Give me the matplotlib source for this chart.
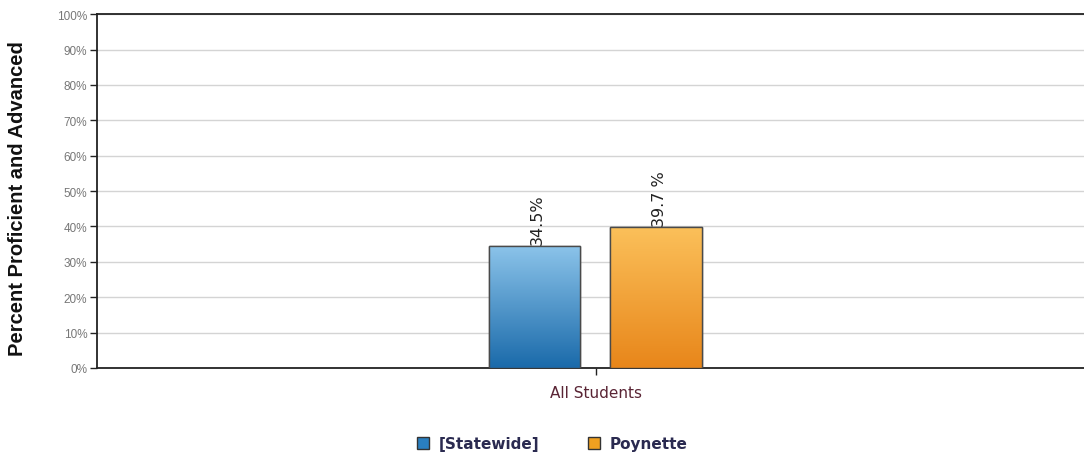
import numpy as np
import matplotlib
matplotlib.use("Agg")
import matplotlib.pyplot as plt
from matplotlib.colors import LinearSegmentedColormap
from matplotlib.lines import Line2D

# données
categories = ["All Students"]
series = ["[Statewide]", "Poynette"]
values = [34.5, 39.7]
labels = ["34.5%", "39.7 %"]
yticks = list(range(0, 101, 10))

colors_top = ["#8cc4ea", "#fbc05a"]
colors_bot = ["#1a6aaa", "#e8861a"]
colors_leg = ["#2a7fc0", "#f0a020"]

fig = plt.figure(figsize=(10.84, 4.60), dpi=100)
ax = fig.add_axes([0.0895, 0.198, 1.01 - 0.0895, 0.769])

x0 = 0
width = 0.092
offsets = [-0.0615, 0.0605]

for i, (val, off) in enumerate(zip(values, offsets)):
    bar = ax.bar(x0 + off, val, width=width, color=colors_bot[i],
                 edgecolor="#4a4a4a", linewidth=1.0, zorder=3)[0]
    # dégradé vertical
    cmap = LinearSegmentedColormap.from_list("g", [colors_bot[i], colors_top[i]])
    grad = np.linspace(0, 1, 256).reshape(-1, 1)
    im = ax.imshow(grad, cmap=cmap, origin="lower", aspect="auto",
                   extent=[x0 + off - width / 2, x0 + off + width / 2, 0, val],
                   zorder=3.5)
    im.set_clip_path(bar)
    ax.bar(x0 + off, val, width=width, fill=False,
           edgecolor="#4a4a4a", linewidth=1.0, zorder=4)
    ax.text(x0 + off + 0.003, val + 0.5, labels[i], rotation=90,
            ha="center", va="bottom", fontsize=11.5, color="#222222", zorder=5)

ax.set_xlim(-0.5, 0.5)
ax.set_ylim(0, 100)
ax.set_yticks(yticks)
ax.set_yticklabels([f"{t}%" for t in yticks], fontsize=8.5, color="#777777",
                   family="Liberation Sans")
ax.set_xticks([0])
ax.set_xticklabels(categories, fontsize=11, color="#5a2535")
ax.tick_params(axis="y", length=5, width=1, color="#222222", pad=2)
ax.tick_params(axis="x", length=5, width=1, color="#222222", pad=7)
ax.yaxis.grid(True, color="#d4d4d4", linewidth=1, zorder=0)
ax.set_axisbelow(True)
for side in ["left", "bottom", "top"]:
    ax.spines[side].set_linewidth(1.3)
    ax.spines[side].set_color("#222222")
ax.spines["right"].set_visible(False)

fig.text(0.016, 0.568, "Percent Proficient and Advanced", rotation=90,
         ha="center", va="center", fontsize=14.5, fontweight="bold",
         color="#111111", family="Liberation Sans")

handles = [Line2D([], [], marker="s", linestyle="", markersize=9,
                  markerfacecolor=c, markeredgecolor="#333333")
           for c in colors_leg]
leg = fig.legend(handles, series, loc="center", bbox_to_anchor=(0.505, 0.033),
                 ncol=2, frameon=False, handletextpad=0.0, columnspacing=2.6,
                 prop={"weight": "bold", "size": 11})
for t in leg.get_texts():
    t.set_color("#2a2a50")

fig.savefig("out.png", dpi=100)
